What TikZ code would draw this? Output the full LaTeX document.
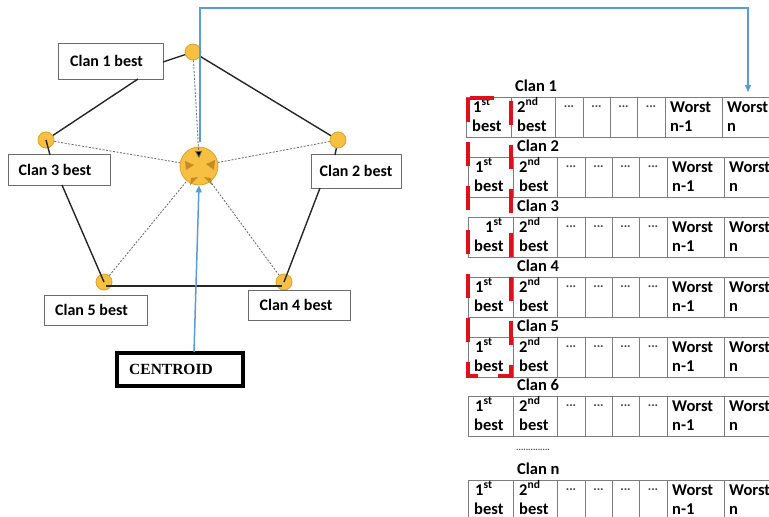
\documentclass[tikz,border=0pt]{standalone}
\usepackage{fontspec}
\setmainfont{Carlito}
\newfontfamily\tnrfont{Liberation Serif}
\usetikzlibrary{arrows.meta}
\definecolor{blueln}{RGB}{91,155,213}
\definecolor{orfill}{RGB}{246,192,66}
\definecolor{ordraw}{RGB}{222,160,40}
\definecolor{ordark}{RGB}{200,138,35}
\definecolor{redmk}{RGB}{225,15,25}
\definecolor{cellgray}{RGB}{125,125,125}
\begin{document}
\begin{tikzpicture}[x=1pt,y=-1pt,
  lblbox/.style={draw=gray!85!black, line width=0.9pt, fill=white, inner sep=0, font=\bfseries\fontsize{16}{18}\selectfont},
  vtx/.style={circle, fill=orfill, draw=ordraw, line width=0.8pt, minimum size=16, inner sep=0},
  pedge/.style={draw=black!85, line width=1.4pt},
  dotln/.style={draw=gray!80!black, line width=0.8pt, dash pattern=on 2pt off 1.5pt},
  bl/.style={draw=blueln, line width=1.5pt},
  celltxt/.style={font=\bfseries\fontsize{16.5}{18}\selectfont, inner sep=0, anchor=base west},
  dottxt/.style={font=\bfseries\fontsize{13}{14}\selectfont, inner sep=0, text=black!75},
  gaptxt/.style={font=\bfseries\fontsize{9}{10}\selectfont, inner sep=0, text=black!75},
  cellgrid/.style={draw=cellgray, line width=0.9pt}
]
\useasboundingbox (0,0) rectangle (769,517);

% ---------- pentagon points ----------
\node[vtx] (v1) at (193,52) {};
\node[vtx] (v2) at (338,140) {};
\node[vtx] (v3) at (46,140) {};
\node[vtx] (v4) at (284,282) {};
\node[vtx] (v5) at (104,282) {};
\node[circle, fill=orfill, draw=ordraw, line width=0.8pt, minimum size=38, inner sep=0] (cen) at (199,166) {};

% centroid inner triangles
\fill[ordark] (185,161) -- (194,165) -- (186,170) -- cycle;
\fill[ordark] (215,160) -- (206,164) -- (214,170) -- cycle;
\fill[ordark] (190,185) -- (198,177) -- (191,178) -- cycle;
\fill[ordark] (212,185) -- (204,177) -- (211,178) -- cycle;

% ---------- label boxes ----------
\node[lblbox, minimum width=105, minimum height=36] (b1) at (110.5,61) {Clan 1 best\hspace*{8pt}};
\node[lblbox, minimum width=102, minimum height=31] (b3) at (59,170) {Clan 3 best\hspace*{8pt}};
\node[lblbox, minimum width=90, minimum height=34] (b2) at (356,171) {Clan 2 best};
\node[lblbox, minimum width=103, minimum height=30] (b5) at (95.5,310) {Clan 5 best\hspace*{8pt}};
\node[lblbox, minimum width=102, minimum height=30] (b4) at (299,305) {Clan 4 best\hspace*{6pt}};
\node[draw=black, line width=3.5pt, minimum width=126, minimum height=33, inner sep=0] (cbox) at (180,369.5) {};
\node[font=\tnrfont\bfseries\fontsize{15.5}{17}\selectfont, inner sep=0] (cbl) at (171,369.5) {CENTROID};

\coordinate (b1s) at (138,79);
\coordinate (b1e) at (163,62);
\coordinate (b3n) at (50,155);
\coordinate (b3s) at (62,185);
\coordinate (b2n) at (335,155);
\coordinate (b2s) at (320,188);
\coordinate (v5b) at (106,286);
\coordinate (v4b) at (282,286);

% ---------- pentagon edges ----------
\draw[pedge] (v1) -- (b1e);
\draw[pedge] (b1s) -- (v3);
\draw[pedge] (v1) -- (v2);
\draw[pedge] (v3.center) -- (b3n);
\draw[pedge] (b3s) -- (v5.center);
\draw[pedge] (v5b) -- (v4b);
\draw[pedge] (v4.center) -- (b2s);
\draw[pedge] (v2) -- (b2n);

% ---------- dotted links to centroid ----------
\coordinate (cenA) at (199,158);
\draw[dotln, -{Triangle[length=7pt,width=7pt,fill=black]}] (v1) -- (cenA);
\draw[dotln] (v3) -- (cen);
\draw[dotln] (v2) -- (cen);
\draw[dotln] (v5) -- (cen);
\draw[dotln] (v4) -- (cen);

% ---------- blue arrows ----------
\coordinate (tr) at (748,8);
\coordinate (arr) at (748,92);
\coordinate (cbtop) at (194,352);
\coordinate (cenN) at (200,142);
\draw[bl, -{Triangle[length=7pt,width=6pt]}] (cenN) |- (tr) -- (arr);
\draw[bl, -{Triangle[length=7pt,width=6pt]}] (cbtop) -- (cen.south);

% ---------- tables ----------
\foreach \t/\lab/\k/\dx/\ind in {97/1/1/-2/0,157/2/2/0/0,217/3/3/0/10,277/4/4/0/0,337/5/5/0/0,396/6/6/0/0,480/n/7/0/0}{
  \begin{scope}[xshift=\dx pt]
    \draw[cellgrid] (468,\t) rectangle (800,\t+40);
    \foreach \xx in {513,557,585,612,639,667,724} \draw[cellgrid] (\xx,\t) -- (\xx,\t+40);
    \node[celltxt] (cl\k) at (517,\t-6) {Clan \lab};
    \node[celltxt] (f\k) at (475+\ind,\t+15) {1\textsuperscript{st}};
    \node[celltxt] (fb\k) at (474,\t+34) {best};
    \node[celltxt] (s\k) at (519,\t+15) {2\textsuperscript{nd}};
    \node[celltxt] (sb\k) at (519,\t+34) {best};
    \foreach \cx/\c in {571/3,598.5/4,625.5/5,653/6}
      \node[dottxt] (d\k-\c) at (\cx,\t+10) {...};
    \node[celltxt] (w\k) at (672,\t+15) {Worst};
    \node[celltxt] (wn\k) at (672,\t+34) {n-1};
    \node[celltxt] (x\k) at (729,\t+15) {Worst};
    \node[celltxt] (xn\k) at (729,\t+34) {n};
  \end{scope}
}
\node[gaptxt, anchor=west] (gap) at (516,450) {..............};

% ---------- red dashed marker ----------
\draw[redmk, line width=4.5pt, dash pattern=on 24pt off 20pt] (468,98) rectangle (511,376);
\end{tikzpicture}
\end{document}
